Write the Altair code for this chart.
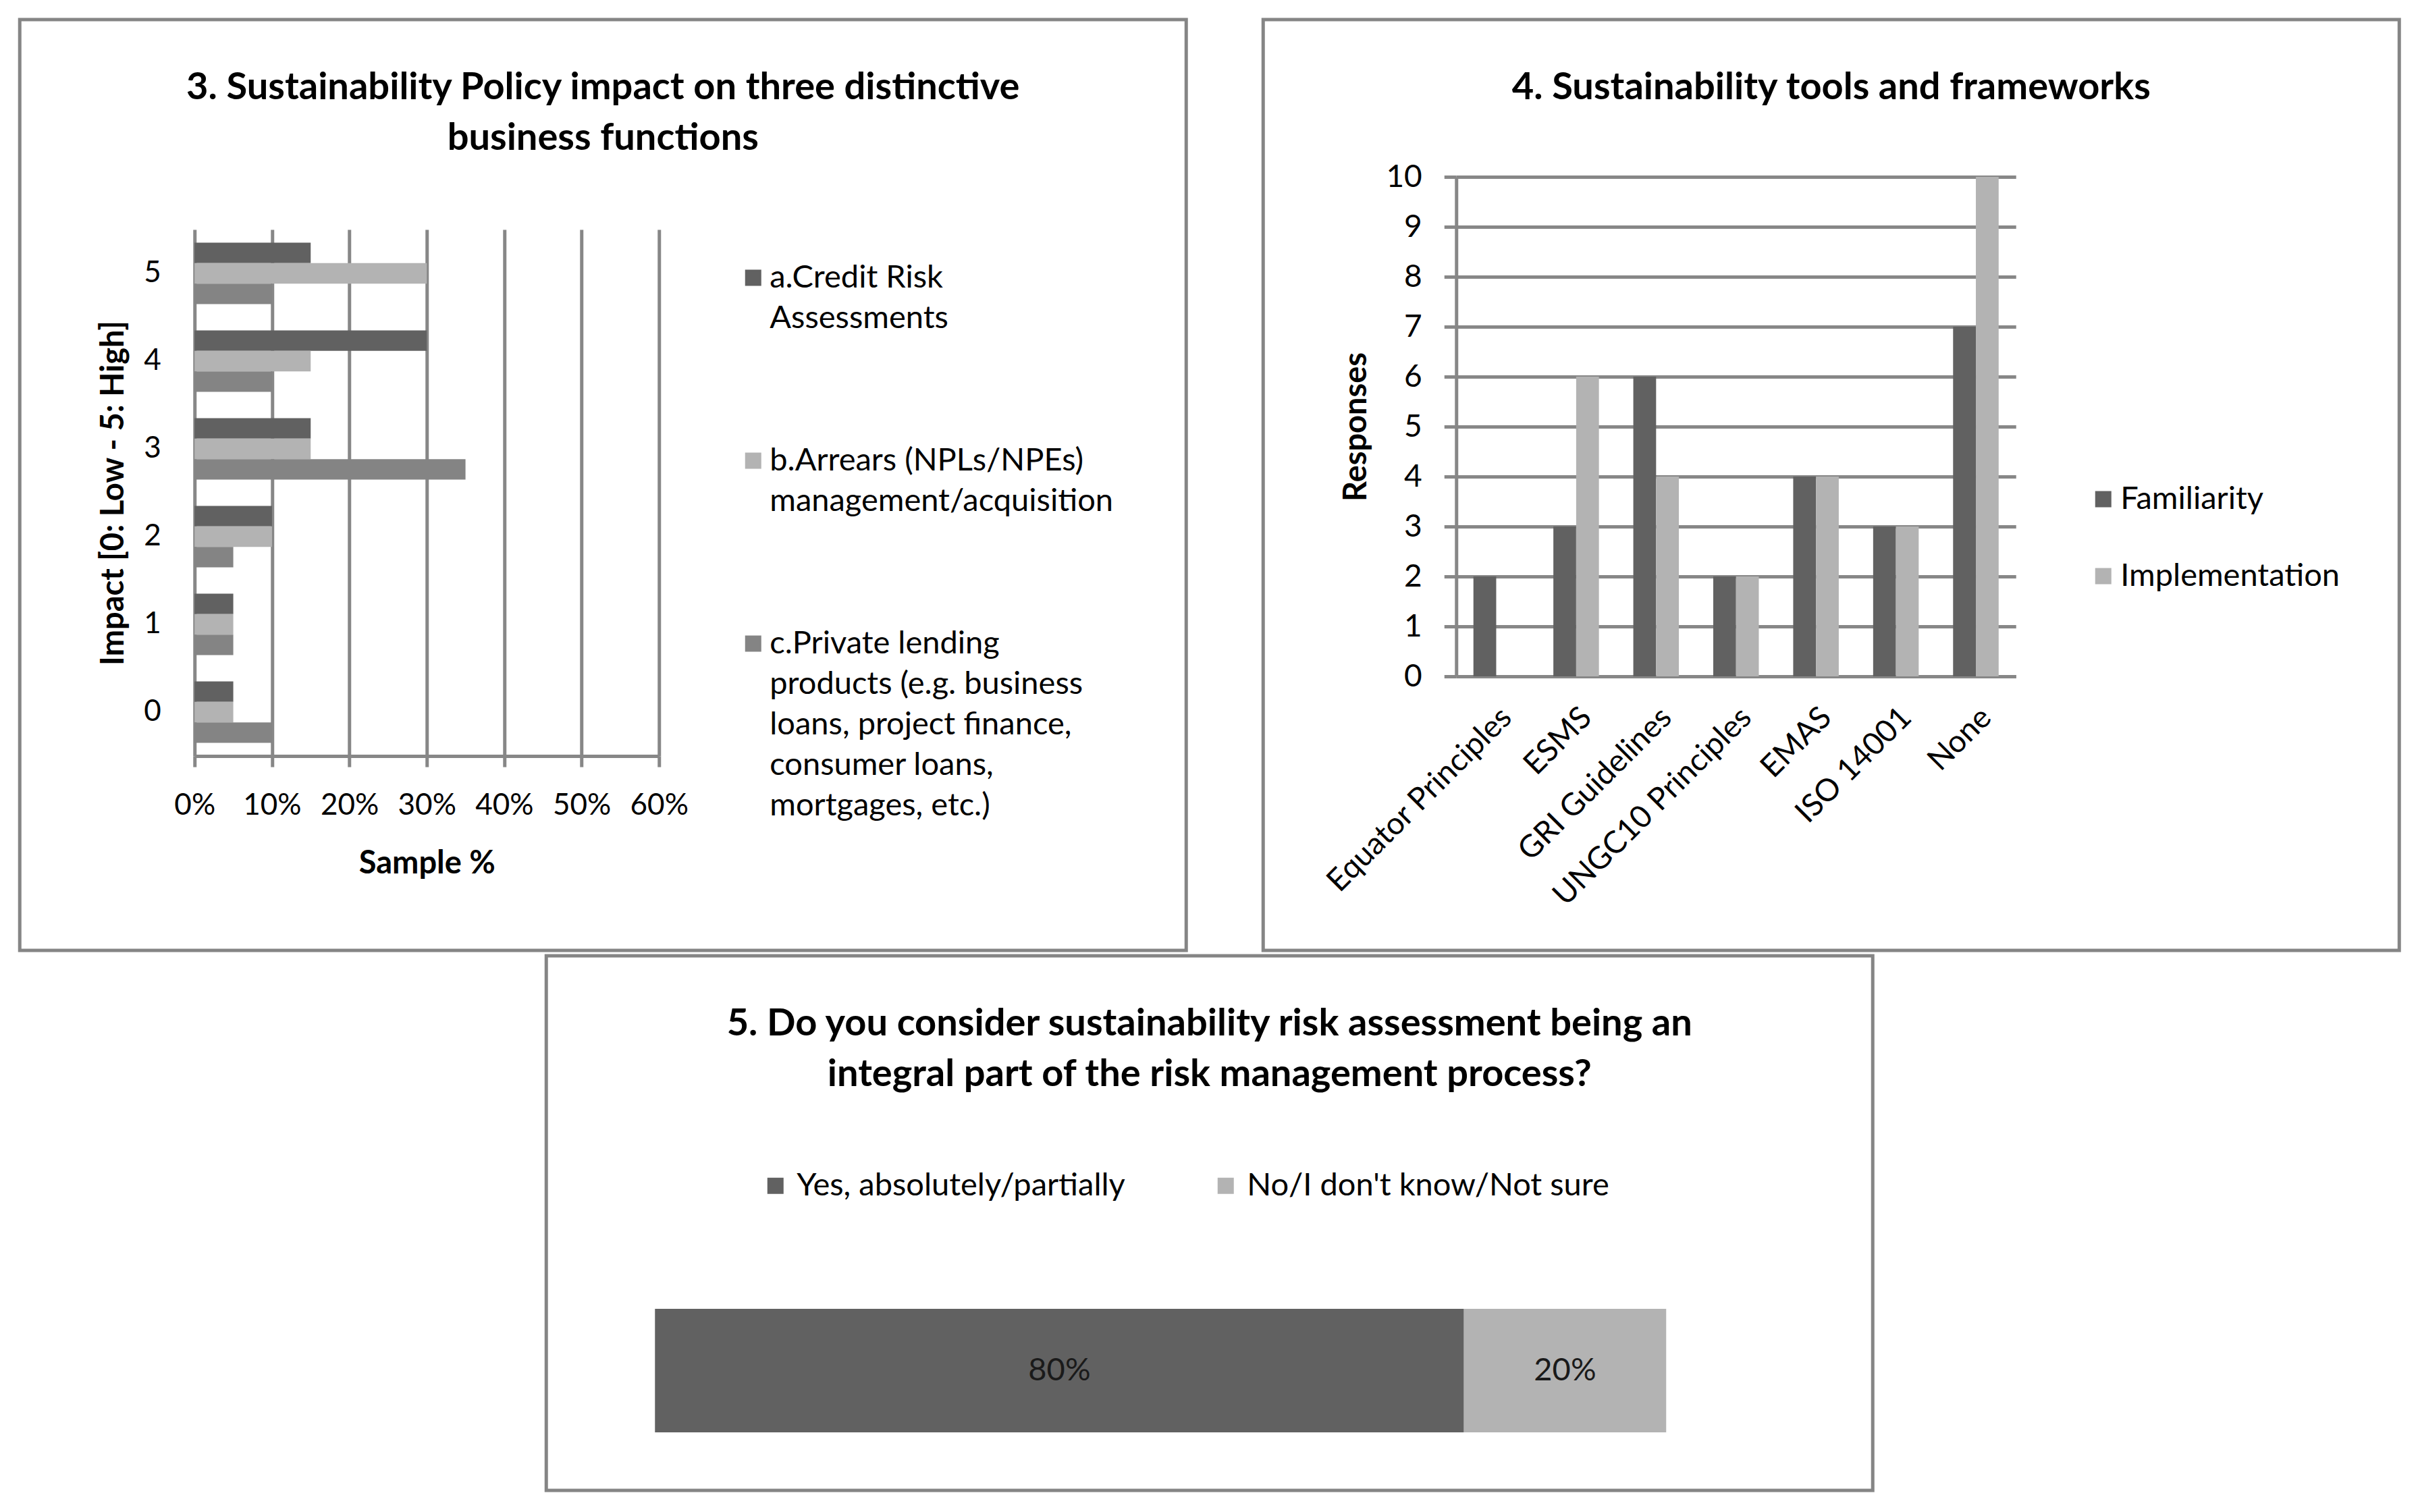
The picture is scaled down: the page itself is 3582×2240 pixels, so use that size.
import altair as alt
import pandas as pd

FONT = "Lato"
DARK = "#616161"
LIGHT = "#b3b3b3"
MID = "#848484"
GRID = "#878787"
BORDER = "#858585"

# ---------------- data ----------------
# Chart 3
impact_levels = ["5", "4", "3", "2", "1", "0"]
impact_series = [
    "a.Credit Risk|Assessments",
    "b.Arrears (NPLs/NPEs)|management/acquisition",
    "c.Private lending|products (e.g. business|loans, project finance,|consumer loans,|mortgages, etc.)",
]
credit_risk = [0.15, 0.30, 0.15, 0.10, 0.05, 0.05]
arrears = [0.30, 0.15, 0.15, 0.10, 0.05, 0.05]
private_lending = [0.10, 0.10, 0.35, 0.05, 0.05, 0.10]
sample_ticks = [0.0, 0.1, 0.2, 0.3, 0.4, 0.5, 0.6]

# Chart 4
tools = ["Equator Principles", "ESMS", "GRI Guidelines", "UNGC10 Principles",
         "EMAS", "ISO 14001", "None"]
measures = ["Familiarity", "Implementation"]
familiarity = [2, 3, 6, 2, 4, 3, 7]
implementation = [0, 6, 4, 2, 4, 3, 10]
response_ticks = [0, 1, 2, 3, 4, 5, 6, 7, 8, 9, 10]

# Chart 5
answers = ["Yes, absolutely/partially", "No/I don't know/Not sure"]
answer_share = [0.80, 0.20]

title3 = ["3. Sustainability Policy impact on three distinctive", "business functions"]
title4 = ["4. Sustainability tools and frameworks"]
title5 = ["5. Do you consider sustainability risk assessment being an",
          "integral part of the risk management process?"]

# ---------------- tables ----------------
rows1 = []
for s, vals in zip(impact_series, [credit_risk, arrears, private_lending]):
    for lvl, v in zip(impact_levels, vals):
        rows1.append({"impact": lvl, "series": s, "share": v})
df1 = pd.DataFrame(rows1)

rows2 = []
for m, vals in zip(measures, [familiarity, implementation]):
    for t, v in zip(tools, vals):
        rows2.append({"tool": t, "measure": m, "count": v})
df2 = pd.DataFrame(rows2)

df3 = pd.DataFrame({"answer": answers, "share": answer_share,
                    "order": list(range(len(answers))), "row": ["all"] * len(answers)})

# ---------------- layout ----------------
W1, H = 1728, 1379
W2 = 1683
W3, H3 = 1965, 792

X1_RANGE = [259, 947]
Y1_RANGE = [311, 1091]
X2_RANGE = [286, 1115]
Y2_RANGE = [973, 233]
X3_RANGE = [161, 1659]
Y3_RANGE = [523, 706]

LEGEND_FS = 47


def panel_title(lines, offset):
    return alt.TitleParams(text=lines, anchor="middle", frame="group", baseline="bottom",
                           offset=offset, fontSize=56, fontWeight="bold", font=FONT,
                           color="black", lineHeight=75)


# ---------------- panel 3 (horizontal grouped bars) ----------------
x1_scale = alt.Scale(domain=[0, 0.6], range=X1_RANGE, nice=False, zero=True)
y1_scale = alt.Scale(domain=impact_levels, range=Y1_RANGE, paddingInner=0.3, paddingOuter=0.15)
y1_axis = alt.Axis(orient="left", offset=-259, grid=False, domain=False,
                   ticks=False, tickSize=0, labelPadding=50, labelFontSize=44,
                   title="Impact [0: Low - 5: High]", titlePadding=20)

grid1 = alt.Chart(df1).mark_bar(opacity=0).encode(
    x=alt.X("share:Q", scale=x1_scale, stack=False,
            axis=alt.Axis(orient="top", values=sample_ticks, grid=True, gridColor=GRID,
                          gridWidth=5, gridOpacity=1, labels=False, ticks=False,
                          domain=False, title=None)),
    y=alt.Y("impact:N", scale=y1_scale, axis=y1_axis),
)

bars1 = alt.Chart(df1).mark_bar().encode(
    x=alt.X("share:Q", scale=x1_scale, stack=False,
            axis=alt.Axis(orient="bottom", offset=-288, values=sample_ticks, format=".0%",
                          grid=False, domain=True, domainColor=GRID, domainWidth=5,
                          ticks=True, tickColor=GRID, tickWidth=5, tickSize=16,
                          labelPadding=35, labelFontSize=44,
                          title="Sample %", titlePadding=41)),
    y=alt.Y("impact:N", scale=y1_scale, axis=y1_axis),
    yOffset=alt.YOffset("series:N", scale=alt.Scale(domain=impact_series,
                                                     paddingInner=0, paddingOuter=0)),
    color=alt.Color("series:N",
                    scale=alt.Scale(domain=impact_series, range=[DARK, LIGHT, MID]),
                    legend=alt.Legend(orient="none", legendX=1063, legendY=359, title=None,
                                      direction="vertical", symbolType="square",
                                      symbolSize=576, symbolStrokeWidth=0, symbolOpacity=1,
                                      labelFont=FONT, labelFontSize=LEGEND_FS,
                                      labelColor="black", labelOffset=1, labelLimit=2000,
                                      labelBaseline="middle", rowPadding=163, padding=0,
                                      labelExpr="split(datum.label, '|')")),
)

p1 = alt.layer(grid1, bars1).resolve_axis(x="independent").properties(
    width=W1, height=H, title=panel_title(title3, -261))

# ---------------- panel 4 (vertical grouped bars) ----------------
p2 = alt.Chart(df2).mark_bar().encode(
    x=alt.X("tool:N",
            scale=alt.Scale(domain=tools, range=X2_RANGE, paddingInner=0.43, paddingOuter=0.215),
            axis=alt.Axis(orient="bottom", offset=-406, labelAngle=-45, labelAlign="right",
                          labelBaseline="top", domain=True, domainColor=GRID, domainWidth=5,
                          ticks=False, tickSize=0, labelPadding=38, labelFontSize=46,
                          grid=False, title=None)),
    y=alt.Y("count:Q", scale=alt.Scale(domain=[0, 10], range=Y2_RANGE, nice=False),
            stack=False,
            axis=alt.Axis(orient="left", offset=-286, values=response_ticks, format="d",
                          grid=True, gridColor=GRID, gridWidth=5, gridOpacity=1,
                          domain=True, domainColor=GRID, domainWidth=5,
                          ticks=True, tickSize=18, tickColor=GRID, tickWidth=5,
                          labelPadding=33, labelFontSize=46,
                          title="Responses", titlePadding=19)),
    xOffset=alt.XOffset("measure:N", scale=alt.Scale(domain=measures,
                                                      paddingInner=0, paddingOuter=0)),
    color=alt.Color("measure:N", scale=alt.Scale(domain=measures, range=[DARK, LIGHT]),
                    legend=alt.Legend(orient="none", legendX=1221, legendY=687, title=None,
                                      direction="vertical", symbolType="square",
                                      symbolSize=576, symbolStrokeWidth=0, symbolOpacity=1,
                                      labelFont=FONT, labelFontSize=LEGEND_FS,
                                      labelColor="black", labelOffset=2, labelLimit=2000,
                                      rowPadding=66, padding=0)),
).properties(width=W2, height=H, title=panel_title(title4, -186))

# ---------------- panel 5 (100% stacked bar) ----------------
base3 = alt.Chart(df3).transform_stack(
    stack="share", groupby=["row"], as_=["x0", "x1"], sort=[alt.SortField("order")]
).transform_calculate(mid="(datum.x0 + datum.x1) / 2")

x3_scale = alt.Scale(domain=[0, 1], range=X3_RANGE, nice=False, zero=False)
y3_scale = alt.Scale(range=Y3_RANGE, paddingInner=0, paddingOuter=0)

bar3 = base3.mark_bar().encode(
    x=alt.X("x0:Q", scale=x3_scale, axis=None),
    x2="x1:Q",
    y=alt.Y("row:N", scale=y3_scale, axis=None),
    color=alt.Color("answer:N", scale=alt.Scale(domain=answers, range=[DARK, LIGHT]),
                    legend=alt.Legend(orient="none", legendX=316, legendY=317, title=None,
                                      direction="horizontal", symbolType="square",
                                      symbolSize=576, symbolStrokeWidth=0, symbolOpacity=1,
                                      labelFont=FONT, labelFontSize=LEGEND_FS,
                                      labelColor="black", labelOffset=8, labelLimit=2000,
                                      columnPadding=125, padding=0)),
)
text3 = base3.mark_text(font=FONT, fontSize=47, color="#1a1a1a").encode(
    x=alt.X("mid:Q", scale=x3_scale, axis=None),
    y=alt.Y("row:N", scale=y3_scale, axis=None),
    text=alt.Text("share:Q", format=".0%"),
)
p3 = alt.layer(bar3, text3).properties(width=W3, height=H3, title=panel_title(title5, -261))

# ---------------- assemble ----------------
top = alt.hconcat(p1, p2, spacing=108).resolve_scale(color="independent")
chart = alt.vconcat(top, p3, spacing=2, center=True).resolve_scale(
    color="independent"
).properties(
    padding={"left": 18, "top": 18, "right": 5, "bottom": 5}
).configure(
    font=FONT, background="white", style={"guide-label": {"lineHeight": 60}}
).configure_view(
    stroke=BORDER, strokeWidth=5, fill="white"
).configure_axis(
    labelFont=FONT, labelFontSize=44, labelColor="black", titleFont=FONT,
    titleFontSize=47, titleFontWeight="bold", titleColor="black",
    labelLimit=2000, labelFlush=False, labelOverlap=False
).configure_legend(
    labelFont=FONT, labelColor="black"
)

chart.save("out.html", embed_options={"renderer": "svg", "actions": False})
